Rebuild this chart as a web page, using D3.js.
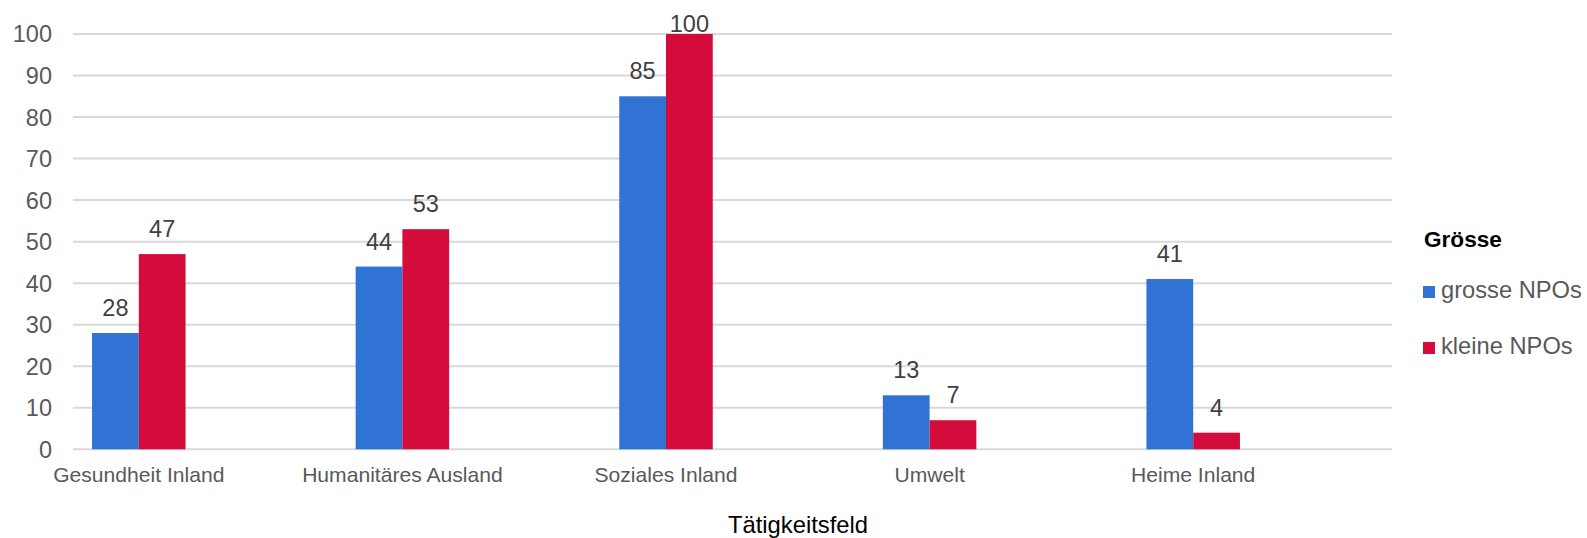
<!DOCTYPE html>
<html><head><meta charset="utf-8">
<script src="https://cdn.jsdelivr.net/npm/d3@7/dist/d3.min.js"></script>
<style>body{margin:0;background:#fff}svg{display:block;font-family:"Liberation Sans",Arial,sans-serif}</style>
</head><body><svg id="c" width="1587" height="538"></svg>
<script>
const categories = ["Gesundheit Inland","Humanitäres Ausland","Soziales Inland","Umwelt","Heime Inland"];
const seriesNames = ["grosse NPOs","kleine NPOs"];
const grosse = [28,44,85,13,41];
const kleine = [47,53,100,7,4];
const yTicks = [0,10,20,30,40,50,60,70,80,90,100];
const colors = ["#3173d4","#d40c3c"];
const legendTitle = "Grösse";
const xTitle = "Tätigkeitsfeld";

const svg = d3.select("#c");
const gridX0 = 73, gridX1 = 1392;
const x = d3.scaleBand().domain(categories).range([7,1325]).padding(0);
const pairW = 93.5;
const xi = d3.scaleBand().domain(seriesNames).range([x.bandwidth()/2 - pairW/2, x.bandwidth()/2 + pairW/2]);
const y = d3.scaleLinear().domain([0,100]).range([449.3,34]);

// grid
svg.append("g").selectAll("line").data(yTicks).join("line")
  .attr("x1",gridX0).attr("x2",gridX1).attr("y1",d=>y(d)).attr("y2",d=>y(d))
  .attr("stroke","#d9d9d9").attr("stroke-width",2);

// y tick labels
svg.append("g").selectAll("text").data(yTicks).join("text")
  .attr("x",52).attr("y",d=>y(d)).attr("dy","0.36em").attr("text-anchor","end")
  .attr("font-size",23.5).attr("fill","#595959").text(d=>d);

const rows = categories.map((c,i)=>({cat:c, vals:[grosse[i],kleine[i]]}));
const g = svg.append("g");
rows.forEach(r=>{
  r.vals.forEach((v,j)=>{
    const s = seriesNames[j];
    const bx = x(r.cat)+xi(s);
    g.append("rect").attr("x",bx).attr("y",y(v)).attr("width",xi.bandwidth()).attr("height",y(0)-y(v)).attr("fill",colors[j]);
    g.append("text").attr("x",bx+xi.bandwidth()/2).attr("y",Math.max(y(v)-17,32))
      .attr("text-anchor","middle").attr("font-size",23.5).attr("fill","#404040").text(v);
  });
});

// category labels
svg.append("g").selectAll("text").data(categories).join("text")
  .attr("x",d=>x(d)+x.bandwidth()/2).attr("y",481.5).attr("text-anchor","middle")
  .attr("font-size",21.1).attr("fill","#595959").text(d=>d);

// x title
svg.append("text").attr("x",798).attr("y",533).attr("text-anchor","middle")
  .attr("font-size",23.8).attr("fill","#000").text(xTitle);

// legend
svg.append("text").attr("x",1424).attr("y",246.5).attr("font-size",22.6).attr("font-weight","bold").attr("fill","#000").text(legendTitle);
seriesNames.forEach((s,j)=>{
  const ly = 298 + j*56;
  svg.append("rect").attr("x",1423).attr("y",ly-12).attr("width",12).attr("height",12).attr("fill",colors[j]);
  svg.append("text").attr("x",1441).attr("y",ly).attr("font-size",23.7).attr("fill","#595959").text(s);
});
</script></body></html>
